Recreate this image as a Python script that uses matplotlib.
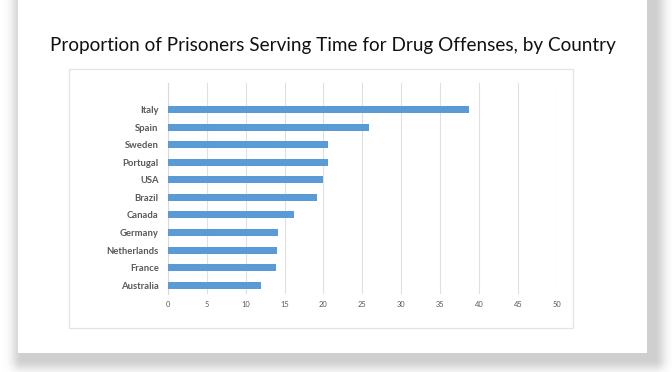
import numpy as np
import matplotlib
matplotlib.use("Agg")
import matplotlib.pyplot as plt
from matplotlib.patches import Rectangle

plt.rcParams['font.family'] = ['Lato', 'DejaVu Sans']

# data, top to bottom as shown
countries = ["Italy", "Spain", "Sweden", "Portugal", "USA", "Brazil",
             "Canada", "Germany", "Netherlands", "France", "Australia"]
share = [38.7, 25.8, 20.6, 20.6, 19.9, 19.2, 16.2, 14.1, 14.0, 13.9, 12.0]
xticks = [0, 5, 10, 15, 20, 25, 30, 35, 40, 45, 50]

W, H = 672, 372
fig = plt.figure(figsize=(W / 100, H / 100), dpi=100)
fig.patch.set_facecolor("white")

# background: card with soft drop shadow
bg = fig.add_axes([0, 0, 1, 1])
bg.set_xlim(0, W)
bg.set_ylim(H, 0)
bg.axis("off")
yy, xx = np.mgrid[0:H, 0:W] + 0.5
card = (18, -20, 647, 353)  # x0, y0, x1, y1
sx0, sy0, sx1, sy1 = card[0] + 4, card[1] + 6, card[2] + 8, card[3] + 7
dx = np.maximum(np.maximum(sx0 - xx, xx - sx1), 0)
dy = np.maximum(np.maximum(sy0 - yy, yy - sy1), 0)
d = np.hypot(dx, dy)
alpha = 0.34 * np.exp(-(d / 10.0) ** 2)
shadow = np.zeros((H, W, 4))
shadow[..., :3] = 0.45
shadow[..., 3] = alpha
bg.imshow(shadow, extent=(0, W, H, 0), interpolation="bilinear", zorder=0)
bg.add_patch(Rectangle((card[0], card[1]), card[2] - card[0], card[3] - card[1],
                       facecolor="white", edgecolor="none", zorder=1))
bg.add_patch(Rectangle((69, 69), 504, 259, facecolor="white",
                       edgecolor="#e3e3e3", lw=0.9, zorder=2))
bg.text(333, 45, "Proportion of Prisoners Serving Time for Drug Offenses, by Country",
        ha="center", va="center", fontsize=13.6, color="#111111", zorder=3)

# chart
ax = fig.add_axes([0.2496, 0.2103, 0.5793, 0.5666])
ax.patch.set_alpha(0)
pos = np.arange(len(countries))[::-1]
ax.barh(pos, share, height=0.4, color="#5b9bd5", zorder=3)
ax.set_xlim(0, 50)
ax.set_ylim(-0.5, 11.54)
ax.set_xticks(xticks)
ax.set_xticklabels([str(t) for t in xticks])
ax.set_yticks(pos)
ax.set_yticklabels(countries)
ax.tick_params(axis="y", length=0, pad=6.5, labelsize=6.8, labelcolor="#595959")
ax.tick_params(axis="x", length=0, pad=5, labelsize=5.4, labelcolor="#595959")
for lab in ax.get_yticklabels():
    lab.set_fontweight("bold")
ax.grid(axis="x", color="#e0e0e0", lw=0.8, zorder=0)
for s in ["top", "right", "bottom"]:
    ax.spines[s].set_visible(False)
ax.spines["left"].set_color("#d9d9d9")
ax.spines["left"].set_linewidth(0.8)

fig.savefig("out.png", dpi=100)
